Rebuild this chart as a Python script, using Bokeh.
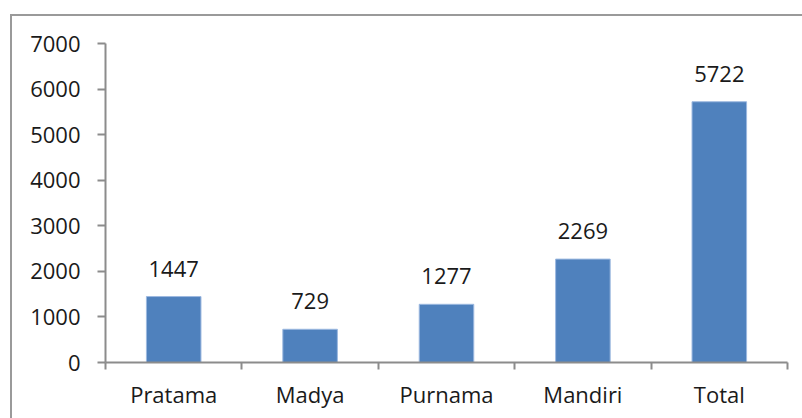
from bokeh.plotting import figure
from bokeh.models import Range1d, FixedTicker, ColumnDataSource
from bokeh.core.properties import value
from bokeh.embed import file_html
from bokeh.resources import INLINE

categories = ["Pratama", "Madya", "Purnama", "Mandiri", "Total"]
counts = [1447, 729, 1277, 2269, 5722]
y_ticks = [0, 1000, 2000, 3000, 4000, 5000, 6000, 7000]

FONT = "Open Sans"
FS = "22px"

centers = [i + 0.5 for i in range(len(categories))]
edges = list(range(len(categories) + 1))

src = ColumnDataSource(dict(x=centers, top=counts, label=[str(c) for c in counts]))

p = figure(frame_width=682, frame_height=319, output_backend="svg", toolbar_location=None,
           x_range=Range1d(0, len(categories)), y_range=Range1d(0, 7000),
           min_border_left=93, min_border_right=15, min_border_top=27, min_border_bottom=56)
p.margin = (14, 0, 0, 10)
p.styles = {"border-left": "2px solid #9a9a9a", "border-top": "2px solid #9a9a9a"}
p.outline_line_color = None
p.xgrid.visible = False
p.ygrid.visible = False

p.vbar(x="x", top="top", width=0.4, source=src, fill_color="#4F81BD", line_color="#9DB9E0", line_width=1)
p.text(x="x", y="top", text="label", source=src, text_align="center", text_baseline="bottom",
       y_offset=-20, text_font=value(FONT), text_font_size=FS, text_color="#1a1a1a")

ax = p.xaxis[0]
ax.ticker = FixedTicker(ticks=centers, minor_ticks=edges)
ax.major_label_overrides = {c: n for c, n in zip(centers, categories)}
ax.major_tick_line_color = None
ax.major_tick_out = 0
ax.major_tick_in = 0
ax.minor_tick_out = 7
ax.minor_tick_in = 0
ax.minor_tick_line_color = "#8c8c8c"
ax.minor_tick_line_width = 2
ax.axis_line_color = "#8c8c8c"
ax.axis_line_width = 2
ax.major_label_text_font = FONT
ax.major_label_text_font_size = FS
ax.major_label_text_color = "#1a1a1a"
ax.major_label_standoff = 9

ay = p.yaxis[0]
ay.ticker = FixedTicker(ticks=y_ticks)
ay.major_tick_out = 8
ay.major_tick_in = 0
ay.minor_tick_line_color = None
ay.major_tick_line_color = "#8c8c8c"
ay.major_tick_line_width = 2
ay.axis_line_color = "#8c8c8c"
ay.axis_line_width = 2
ay.major_label_text_font = FONT
ay.major_label_text_font_size = FS
ay.major_label_text_color = "#1a1a1a"
ay.major_label_standoff = 17

open("out.html", "w").write(file_html(p, INLINE))
